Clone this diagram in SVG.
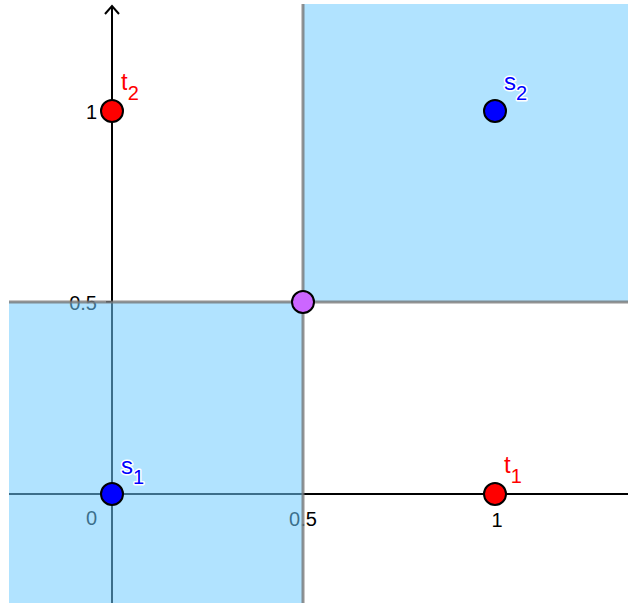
<svg xmlns="http://www.w3.org/2000/svg" width="628" height="603" viewBox="0 0 628 603">
<style>
.axis{stroke:#000;stroke-width:2;fill:none}
.tick{font-family:"Liberation Sans",Arial,sans-serif;font-size:20px;fill:#000}
.region{fill:#6fccff;fill-opacity:0.54}
.bound{stroke:#777;stroke-width:3;stroke-opacity:0.8;fill:none}
.pt{stroke:#000;stroke-width:2}
.lbl{font-family:"Liberation Sans",Arial,sans-serif;font-size:24px;stroke:#fff;stroke-width:3;paint-order:stroke;stroke-linejoin:round}
.sub{font-size:20px}
</style>
<rect width="628" height="603" fill="#fff"/>
<g id="axes">
<line class="axis" x1="9" y1="494" x2="628" y2="494"/>
<line class="axis" x1="112" y1="603" x2="112" y2="6"/>
<polyline class="axis" points="105,14 112,6 119,14"/>
<line class="axis" x1="106" y1="302" x2="112" y2="302"/>
<text class="tick" x="97" y="525" text-anchor="end">0</text>
<text class="tick" x="303" y="526" text-anchor="middle">0.5</text>
<text class="tick" x="497" y="527" text-anchor="middle">1</text>
<text class="tick" x="97" y="310" text-anchor="end">0.5</text>
<text class="tick" x="97" y="119" text-anchor="end">1</text>
</g>
<g id="regions">
<rect class="region" x="303" y="4" width="325" height="298"/>
<rect class="region" x="9" y="302" width="294" height="301"/>
</g>
<g id="connectors">
<line class="bound" x1="9" y1="302" x2="628" y2="302"/>
<line class="bound" x1="303" y1="4" x2="303" y2="603"/>
</g>
<g id="s1">
<circle class="pt" cx="112" cy="494" r="11" fill="#0000ff"/>
<text class="lbl" x="121" y="474" fill="#0000ff">s<tspan class="sub" dy="10">1</tspan></text>
</g>
<g id="t1">
<circle class="pt" cx="495" cy="494" r="11" fill="#ff0000"/>
<text class="lbl" x="504" y="473" fill="#ff0000">t<tspan class="sub" dy="10">1</tspan></text>
</g>
<g id="t2">
<circle class="pt" cx="112" cy="111" r="11" fill="#ff0000"/>
<text class="lbl" x="121" y="90" fill="#ff0000">t<tspan class="sub" dy="10">2</tspan></text>
</g>
<g id="s2">
<circle class="pt" cx="495" cy="111" r="11" fill="#0000ff"/>
<text class="lbl" x="504" y="90" fill="#0000ff">s<tspan class="sub" dy="10">2</tspan></text>
</g>
<g id="p">
<circle class="pt" cx="303" cy="302" r="11" fill="#cc66ff"/>
</g>
</svg>
